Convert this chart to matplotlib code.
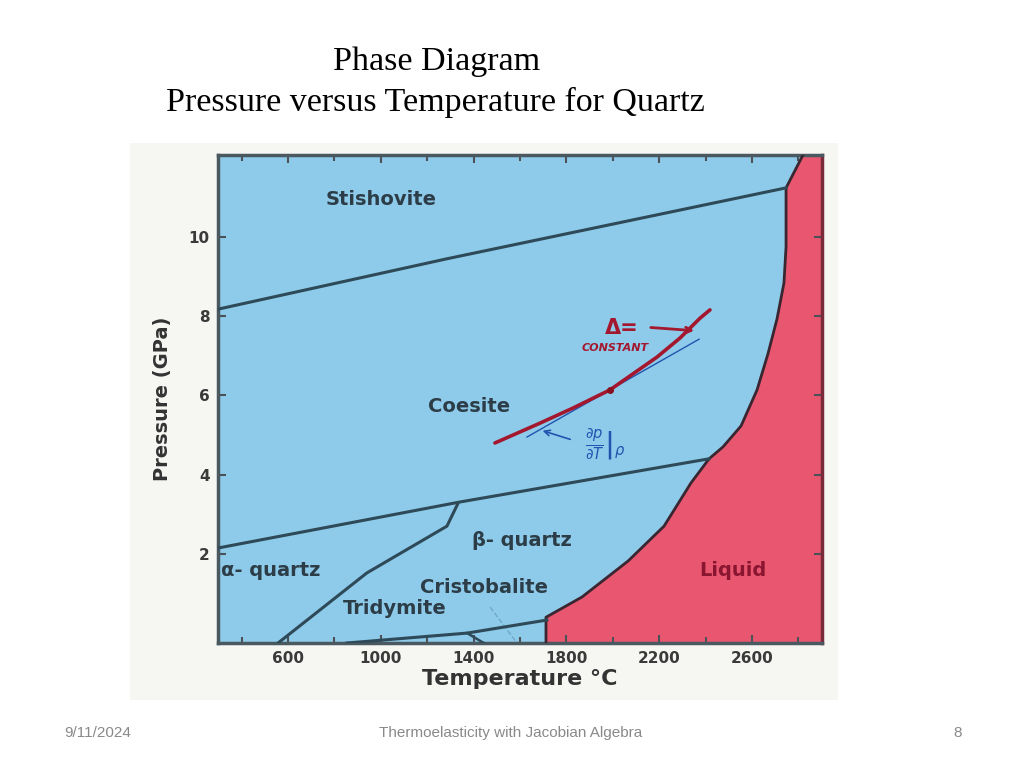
import matplotlib
matplotlib.use("Agg")
import matplotlib.pyplot as plt
from matplotlib.patches import Rectangle
from matplotlib.ticker import MultipleLocator, FixedLocator

# phase boundaries (T in deg C, P in GPa)
stish_T = [300, 1285, 2747]
stish_P = [8.18, 9.45, 11.24]

coes_T = [300, 1341, 2415]
coes_P = [2.15, 3.31, 4.40]

alpha_T = [557, 940, 1285, 1333]
alpha_P = [-0.25, 1.52, 2.70, 3.28]

trid_T = [854, 1372, 1716]
trid_P = [-0.25, 0.0, 0.33]

crist_T = [1372, 1458]
crist_P = [0.0, -0.30]

faint_T = [1471, 1587]
faint_P = [0.66, -0.25]

melt_T = [1712, 1712, 1867, 2066, 2221, 2337, 2415, 2475, 2553, 2622, 2669,
          2708, 2738, 2747, 2747, 2820]
melt_P = [-0.25, 0.40, 0.91, 1.82, 2.70, 3.79, 4.40, 4.70, 5.23, 6.14, 7.05,
          7.93, 8.84, 9.75, 11.24, 12.07]

# hand-drawn annotation
iso_T = [1492, 1686, 1828, 1988, 2191, 2290, 2376, 2419]
iso_P = [4.80, 5.30, 5.68, 6.14, 6.97, 7.45, 7.95, 8.16]
dot_T, dot_P = 1988, 6.14
tang_T = [1630, 2372]
tang_P = [4.95, 7.42]

phase_names = ["Stishovite", "Coesite", "β- quartz", "Cristobalite", "Tridymite"]
phase_T = [1001, 1380, 1609, 1445, 1061]
phase_P = [10.94, 5.73, 2.35, 1.14, 0.63]

x_labels = [600, 1000, 1400, 1800, 2200, 2600]
y_labels = [2, 4, 6, 8, 10]

W, H = 1024, 768
fig = plt.figure(figsize=(W / 100, H / 100), dpi=100)

def fx(px):
    return px / W

def fy(py):
    return 1 - py / H

# scanned image backdrop
fig.patches.append(Rectangle((fx(130), fy(700)), fx(838) - fx(130), fy(143) - fy(700),
                             transform=fig.transFigure, facecolor="#f6f6f3",
                             edgecolor="none", zorder=0))

ax = fig.add_axes([fx(218), fy(643), fx(822) - fx(218), fy(155) - fy(643)])
ax.set_zorder(2)
ax.set_facecolor("#8ecbea")
ax.set_xlim(298, 2902)
ax.set_ylim(-0.25, 12.07)

line_c = "#2e4a58"
red_fill = "#e8566f"
chart_font = "DejaVu Sans"

ax.fill_betweenx(melt_P, melt_T, 2902, color=red_fill, zorder=1)
ax.plot(melt_T, melt_P, color="#3a2630", lw=2, zorder=3)
ax.plot(stish_T, stish_P, color=line_c, lw=2.2, zorder=3)
ax.plot(coes_T, coes_P, color=line_c, lw=2.2, zorder=3)
ax.plot(alpha_T, alpha_P, color=line_c, lw=2.2, zorder=3)
ax.plot(trid_T, trid_P, color=line_c, lw=2.2, zorder=3)
ax.plot(crist_T, crist_P, color=line_c, lw=1.8, zorder=3)
ax.plot(faint_T, faint_P, color="#6fa8c8", lw=1, ls="--", zorder=2)

lab_kw = dict(fontsize=14, fontweight="bold", color="#2c3d48",
              family=chart_font, ha="center", va="center", zorder=4)
for name, t, p in zip(phase_names, phase_T, phase_P):
    ax.text(t, p, name, **lab_kw)
ax.text(312, 1.59, "α- quartz", **{**lab_kw, "ha": "left"})
ax.text(2518, 1.59, "Liquid", **{**lab_kw, "color": "#8a1530"})

# hand annotation
ax.plot(tang_T, tang_P, color="#1f55b0", lw=1, zorder=5)
ax.plot(iso_T, iso_P, color="#a3182e", lw=2.6, zorder=5,
        solid_capstyle="round", solid_joinstyle="round")
ax.plot([dot_T], [dot_P], "o", color="#8a1020", ms=4, zorder=6)
ax.text(2040, 7.70, "Δ=", color="#a3182e", fontsize=15, fontweight="bold",
        ha="center", va="center", zorder=6)
ax.annotate("", xy=(2363, 7.63), xytext=(2152, 7.72),
            arrowprops=dict(arrowstyle="->", color="#a3182e", lw=2), zorder=6)
ax.text(2009, 7.20, "CONSTANT", color="#a3182e", fontsize=8, fontweight="bold",
        style="italic", ha="center", va="center", zorder=6)
ax.annotate("", xy=(1686, 5.13), xytext=(1828, 4.87),
            arrowprops=dict(arrowstyle="->", color="#1f55b0", lw=1.2), zorder=6)
ax.text(1966, 4.75, r"$\left.\frac{\partial p}{\partial T}\right|_{\rho}$", color="#1f55b0",
        fontsize=15, ha="center", va="center", zorder=6)

# axes styling
ax.xaxis.set_major_locator(FixedLocator(x_labels))
ax.xaxis.set_minor_locator(MultipleLocator(200))
ax.yaxis.set_major_locator(FixedLocator(y_labels))
ax.tick_params(which="both", direction="in", top=True, right=True,
               color="#4a5258", width=1.5)
ax.tick_params(which="major", length=6, labelsize=11, labelcolor="#3a3a3a", pad=6)
ax.tick_params(which="minor", length=4)
ax.tick_params(axis="y", which="both", right=True, labelright=False)
for lbl in ax.get_xticklabels() + ax.get_yticklabels():
    lbl.set_fontweight("bold")
    lbl.set_family(chart_font)
for side in ["left", "top", "bottom"]:
    ax.spines[side].set_color("#4a5860")
    ax.spines[side].set_linewidth(2.5)
ax.spines["right"].set_color("#7a2a3a")
ax.spines["right"].set_linewidth(2.5)

ax.set_xlabel("Temperature °C", fontsize=16, fontweight="bold", color="#333333",
              family=chart_font, labelpad=2)
ax.set_ylabel("Pressure (GPa)", fontsize=14, fontweight="bold", color="#333333",
              family=chart_font, labelpad=12)

# slide text
fig.text(fx(437), fy(62), "Phase Diagram", family="Liberation Serif",
         fontsize=24.5, ha="center", va="center")
fig.text(fx(435), fy(102), "Pressure versus Temperature for Quartz",
         family="Liberation Serif", fontsize=24.5, ha="center", va="center")
foot_kw = dict(family="Liberation Sans", fontsize=11, color="#898989", va="center")
fig.text(fx(98), fy(733), "9/11/2024", ha="center", **foot_kw)
fig.text(fx(511), fy(733), "Thermoelasticity with Jacobian Algebra", ha="center", **foot_kw)
fig.text(fx(958), fy(733), "8", ha="center", **foot_kw)

fig.savefig("out.png", dpi=100)
